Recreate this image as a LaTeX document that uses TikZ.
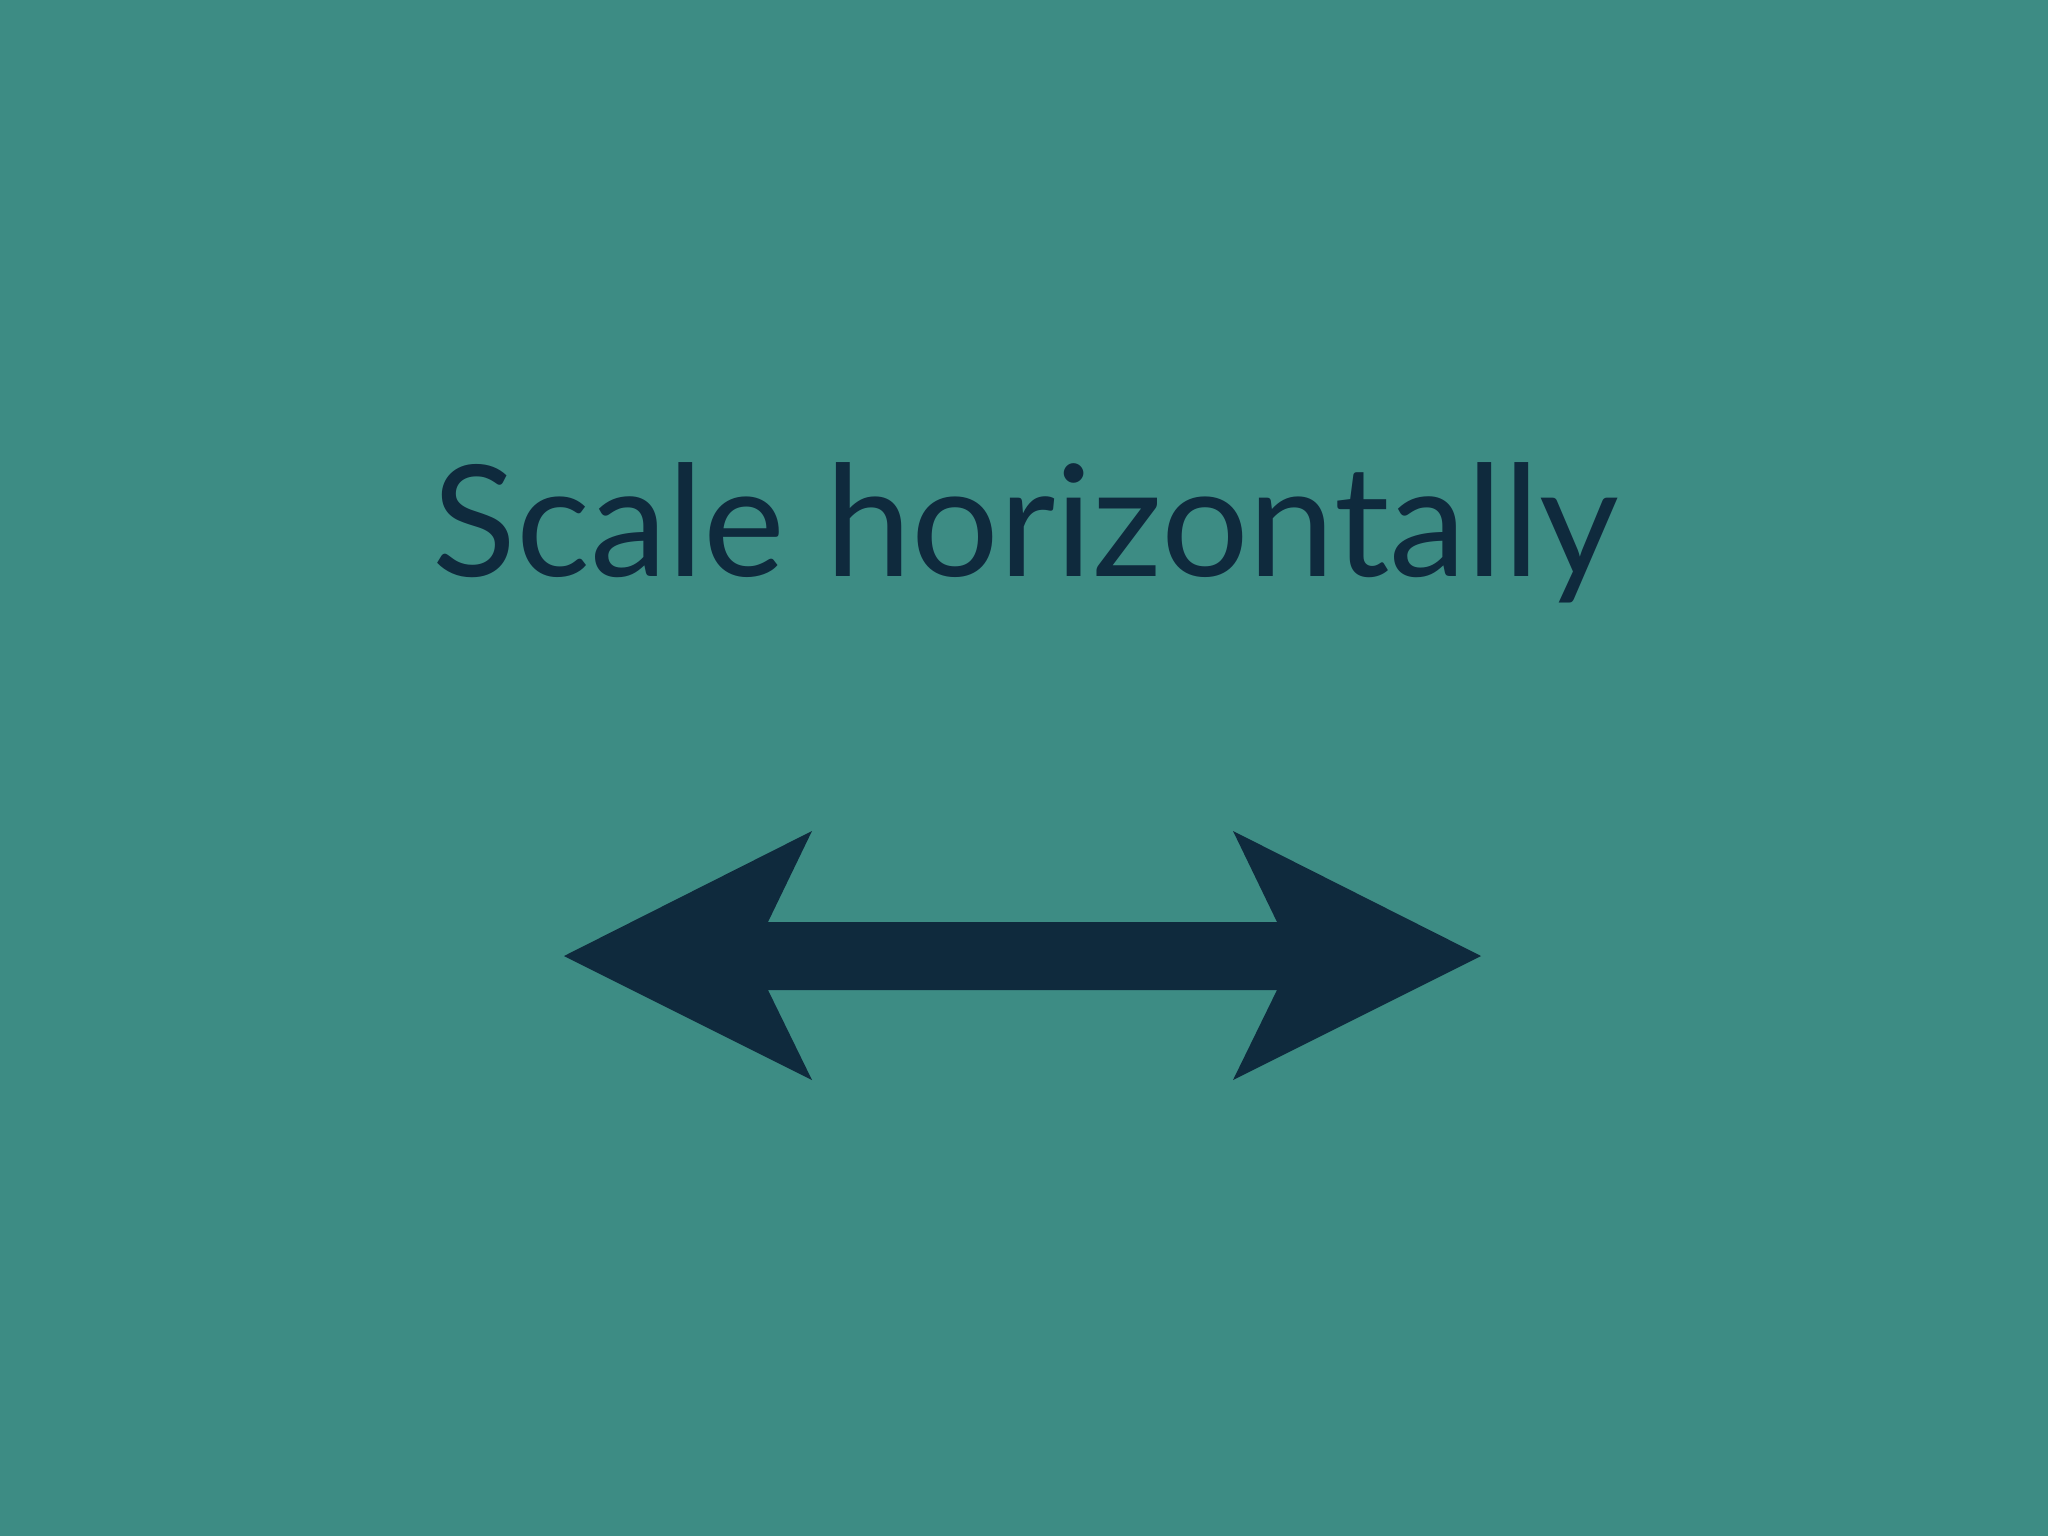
\documentclass[tikz,border=0pt]{standalone}
\usepackage{fontspec}
\setmainfont{Lato}
\usepackage{tikz}

\definecolor{slidebg}{RGB}{61,140,132}
\definecolor{inkblue}{RGB}{15,42,61}

\tikzset{
    heading/.style={font=\fontsize{44}{48}\selectfont, text=inkblue, anchor=base, inner sep=0pt},
    bigarrow/.style={fill=inkblue, draw=none}
}

\begin{document}
\begin{tikzpicture}[x=0.01cm, y=-0.01cm]
\fill[slidebg] (0,0) rectangle (2048,1536);
\useasboundingbox (0,0) rectangle (2048,1536);

\node[heading] (title) at (1026,576) {Scale horizontally};

% double arrow
\coordinate (ltip) at (564,956);
\coordinate (rtip) at (1481,956);
\fill[bigarrow] (ltip) -- (812,831) -- (768,922) -- (1277,922) -- (1233,831)
    -- (rtip) -- (1233,1080) -- (1277,990) -- (768,990) -- (812,1080) -- cycle;
\end{tikzpicture}
\end{document}
